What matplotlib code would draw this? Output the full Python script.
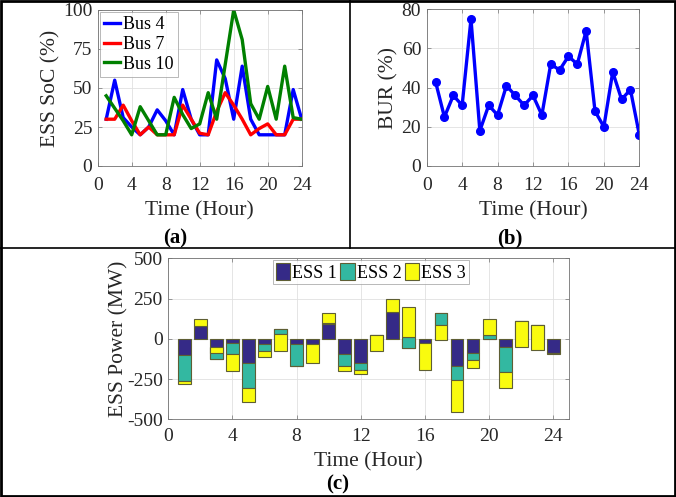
import numpy as np
import matplotlib.pyplot as plt
from matplotlib.lines import Line2D
from matplotlib.patches import Rectangle

# Hour axis shared by all three panels
hours = np.arange(1, 25)

# (a) ESS state of charge (%)
soc_bus4 = [30, 55, 31, 25, 20, 25, 36, 29, 20, 49, 30, 20, 20, 68, 56, 30, 64, 30, 20, 20, 20, 20, 49, 30]
soc_bus7 = [30, 30, 39, 29, 20, 25, 20, 20, 20, 39, 30, 21, 20, 35, 47, 39, 30, 20, 24, 27, 20, 20, 30, 30]
soc_bus10 = [45, 37, 29, 20, 38, 29, 20, 20, 44, 33, 24, 27, 47, 30, 65, 100, 81, 40, 30, 51, 30, 64, 31, 30]

# (b) BUR (%)
bur = [43, 25, 36, 31, 75, 18, 31, 26, 41, 36, 31, 36, 26, 52, 49, 56, 52, 69, 28, 20, 48, 34, 39, 16]

# (c) ESS power (MW), stacked cumulatively in series order
ess1 = [-100, 80, -125, -25, -150, -35, 62, -35, -35, 92, -97, -153,
        23, 166, -60, -25, 163, -170, -89, 0, -54, 112, 87, -88]
ess2 = [-160, 0, 77, -72, -155, -41, -33, -133, 0, 5, -72, -43,
        0, 0, 74, 0, -75, -83, -41, 25, -153, 0, 0, 0]
ess3 = [-20, 40, -40, -103, -85, -39, -106, 0, -116, 65, -31, -21,
        -98, 83, 183, -168, -98, -200, -52, 101, -101, -164, -158, -5]

plt.rcParams['font.family'] = ['Liberation Serif', 'DejaVu Serif']
plt.rcParams['axes.unicode_minus'] = False
plt.rcParams['xtick.direction'] = 'in'
plt.rcParams['ytick.direction'] = 'in'
plt.rcParams['xtick.top'] = True
plt.rcParams['ytick.right'] = True
plt.rcParams['xtick.major.size'] = 3
plt.rcParams['ytick.major.size'] = 3
plt.rcParams['xtick.major.width'] = 0.5
plt.rcParams['ytick.major.width'] = 0.5

W, H = 676, 497
fig = plt.figure(figsize=(W / 100, H / 100), dpi=100)

tick_fs = 14
lab_fs = 15.5
ink = '#262626'


def px_axes(left, top, right, bottom):
    return fig.add_axes([left / W, 1 - bottom / H, (right - left) / W, (bottom - top) / H])


def style(ax, xpad):
    ax.grid(True, color='0.88', lw=0.6)
    ax.set_axisbelow(True)
    for s in ax.spines.values():
        s.set_color('0.45')
        s.set_linewidth(0.6)
    ax.tick_params(labelsize=tick_fs, colors='0.45', labelcolor=ink)
    ax.tick_params(axis='x', pad=xpad)
    ax.tick_params(axis='y', pad=4)


# ---- (a) ----
ax1 = px_axes(97.7, 10, 301.7, 166)
ax1.plot(hours, soc_bus4, color='#0000ff', lw=2.4, label='Bus 4')
ax1.plot(hours, soc_bus7, color='#ff0000', lw=2.4, label='Bus 7')
ax1.plot(hours, soc_bus10, color='#008000', lw=2.4, label='Bus 10')
ax1.set_xlim(0, 24)
ax1.set_ylim(0, 100)
ax1.set_xticks(range(0, 25, 4))
ax1.set_yticks([0, 25, 50, 75, 100])
ax1.set_xlabel('Time (Hour)', fontsize=lab_fs, color=ink, labelpad=5)
ax1.set_ylabel('ESS SoC (%)', fontsize=lab_fs, color=ink, labelpad=2)
style(ax1, 8)
leg = ax1.legend(loc='upper left', bbox_to_anchor=(0.0, 1.0), fontsize=13, frameon=True,
                 fancybox=False, edgecolor='0.6', handlelength=0.9, handletextpad=0.15,
                 borderpad=0.25, labelspacing=0.15, borderaxespad=0.1)
leg.get_frame().set_linewidth(0.6)

# ---- (b) ----
ax2 = px_axes(426.7, 9.3, 639.3, 166)
ax2.plot(hours, bur, color='#0000ff', lw=2.4, marker='o', ms=5.5)
ax2.set_xlim(0, 24)
ax2.set_ylim(0, 80)
ax2.set_xticks(range(0, 25, 4))
ax2.set_yticks(range(0, 81, 20))
ax2.set_xlabel('Time (Hour)', fontsize=lab_fs, color=ink, labelpad=5)
ax2.set_ylabel('BUR (%)', fontsize=lab_fs, color=ink, labelpad=2)
style(ax2, 8)

# ---- (c) ----
ax3 = px_axes(168.3, 258.3, 569.3, 419.3)
c1, c2, c3 = '#352a87', '#33b8a1', '#f9fb0e'
e1 = np.array(ess1)
e2 = np.array(ess2)
e3 = np.array(ess3)
kw = dict(width=0.8, edgecolor='#5e5e34', linewidth=0.8)
ax3.bar(hours, e1, color=c1, label='ESS 1', **kw)
ax3.bar(hours, e2, bottom=e1, color=c2, label='ESS 2', **kw)
ax3.bar(hours, e3, bottom=e1 + e2, color=c3, label='ESS 3', **kw)
ax3.set_xlim(0, 25)
ax3.set_ylim(-500, 500)
ax3.set_xticks(range(0, 25, 4))
ax3.set_yticks([-500, -250, 0, 250, 500])
ax3.set_xlabel('Time (Hour)', fontsize=lab_fs, color=ink, labelpad=5)
ax3.set_ylabel('ESS Power (MW)', fontsize=lab_fs, color=ink, labelpad=-1)
style(ax3, 6.5)
leg3 = ax3.legend(loc='upper center', bbox_to_anchor=(0.505, 1.0), ncol=3, fontsize=13,
                  frameon=True, fancybox=False, edgecolor='0.6', handlelength=0.8,
                  handleheight=1.1, handletextpad=0.1, columnspacing=0.2,
                  borderpad=0.15, borderaxespad=0.1)
leg3.get_frame().set_linewidth(0.6)

# panel captions
fig.text(175 / W, 1 - 238 / H, '(a)', fontsize=15, fontweight='bold', ha='center', va='center')
fig.text(510 / W, 1 - 238 / H, '(b)', fontsize=15, fontweight='bold', ha='center', va='center')
fig.text(338 / W, 1 - 484 / H, '(c)', fontsize=15, fontweight='bold', ha='center', va='center')

# frame and dividers
fig.add_artist(Rectangle((0.0015, 0.002), 0.997, 0.996, transform=fig.transFigure,
                         fill=False, edgecolor='black', lw=2))
ymid = 1 - 248 / H
fig.add_artist(Line2D([0, 1], [ymid, ymid], transform=fig.transFigure, color='black', lw=1.2))
fig.add_artist(Line2D([350 / W, 350 / W], [ymid, 1], transform=fig.transFigure, color='black', lw=1.2))

fig.savefig('out.png', dpi=100)
